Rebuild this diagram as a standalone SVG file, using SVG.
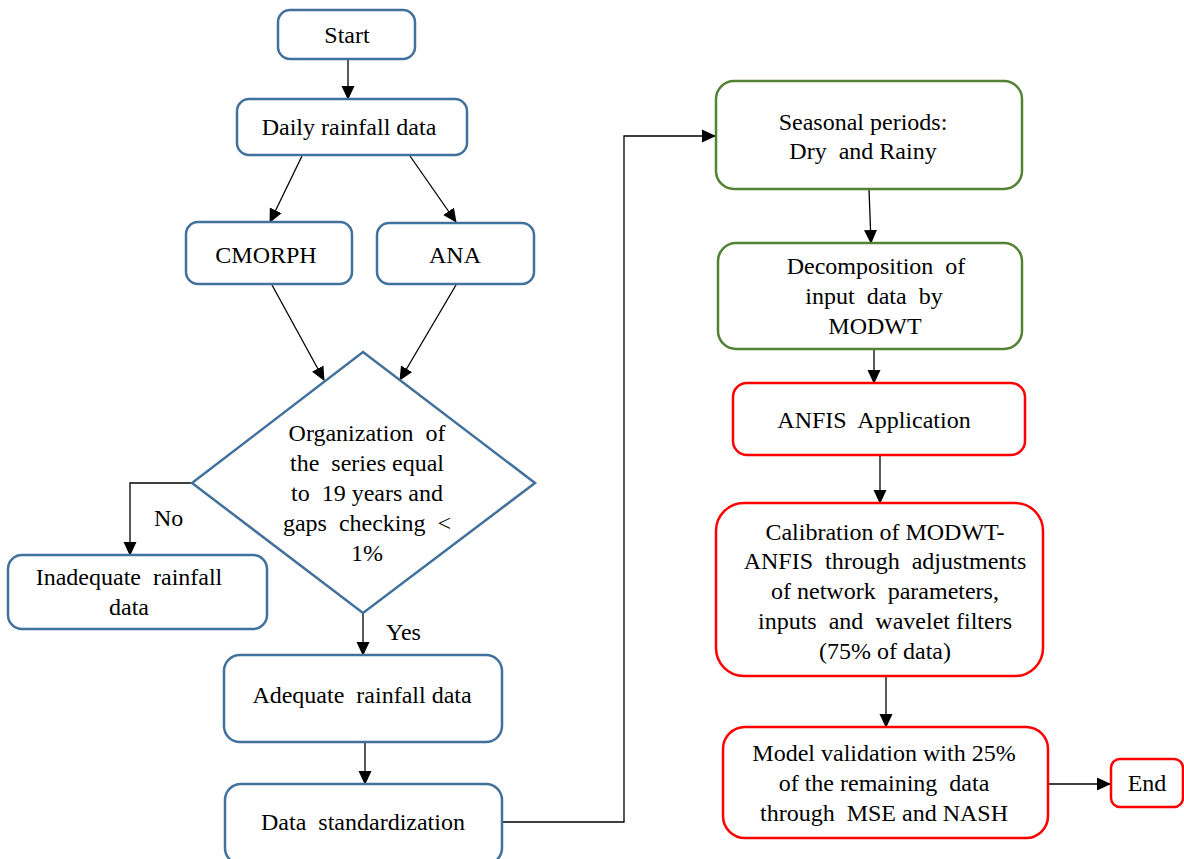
<svg xmlns="http://www.w3.org/2000/svg" width="1184" height="859" viewBox="0 0 1184 859">
<defs>
<marker id="ah" markerWidth="14" markerHeight="14" refX="13" refY="7" orient="auto" markerUnits="userSpaceOnUse">
<path d="M0,0.5 L14,7 L0,13.5 Z" fill="#000"/>
</marker>
<style>
.b{fill:#fff;stroke:#41719c;stroke-width:2.5}
.g{fill:#fff;stroke:#548235;stroke-width:2.5}
.r{fill:#fff;stroke:#ff0000;stroke-width:2.5}
.t{font-family:"Liberation Serif","Times New Roman",serif;font-size:24px;fill:#000;text-anchor:middle;white-space:pre}
.l{font-family:"Liberation Serif","Times New Roman",serif;font-size:24px;fill:#000}
.c{fill:none;stroke:#000;stroke-width:1.3;marker-end:url(#ah)}
</style>
</defs>
<rect width="1184" height="859" fill="#fff"/>
<g id="connectors">
<line class="c" x1="348" y1="59" x2="348" y2="99"/>
<line class="c" x1="302" y1="156" x2="270" y2="222"/>
<line class="c" x1="410" y1="156" x2="456" y2="222"/>
<line class="c" x1="272" y1="285" x2="324" y2="380"/>
<line class="c" x1="456" y1="285" x2="400" y2="380"/>
<polyline class="c" points="192,483 130,483 130,555"/>
<line class="c" x1="363" y1="613" x2="363" y2="655"/>
<line class="c" x1="365" y1="742" x2="365" y2="784"/>
<polyline class="c" points="502,822 624,822 624,136 715,136"/>
<line class="c" x1="869" y1="189" x2="871" y2="243"/>
<line class="c" x1="874" y1="349" x2="874" y2="383"/>
<line class="c" x1="880" y1="455" x2="880" y2="503"/>
<line class="c" x1="886" y1="676" x2="886" y2="727"/>
<line class="c" x1="1048" y1="784" x2="1110" y2="784"/>
<text class="l" x="154" y="526">No</text>
<text class="l" x="386" y="640">Yes</text>
</g>
<g id="start">
<rect class="b" x="278" y="10" width="137" height="49" rx="12"/>
<text class="t" x="347" y="43">Start</text>
</g>
<g id="daily">
<rect class="b" x="237" y="99" width="230" height="56" rx="12"/>
<text class="t" x="349" y="135">Daily rainfall data</text>
</g>
<g id="cmorph">
<rect class="b" x="186" y="222" width="166" height="62" rx="12"/>
<text class="t" x="266" y="263">CMORPH</text>
</g>
<g id="ana">
<rect class="b" x="377" y="223" width="157" height="61" rx="12"/>
<text class="t" x="455" y="263">ANA</text>
</g>
<g id="decision">
<polygon class="b" points="363,352 535,483 363,613 192,483"/>
<text class="t" x="367" y="441">Organization  of</text>
<text class="t" x="367" y="471">the  series equal</text>
<text class="t" x="367" y="501">to  19 years and</text>
<text class="t" x="367" y="531">gaps  checking  &lt;</text>
<text class="t" x="367" y="561">1%</text>
</g>
<g id="inadequate">
<rect class="b" x="8" y="555" width="259" height="74" rx="14"/>
<text class="t" x="129" y="585">Inadequate  rainfall</text>
<text class="t" x="129" y="615">data</text>
</g>
<g id="adequate">
<rect class="b" x="224" y="655" width="278" height="87" rx="16"/>
<text class="t" x="362" y="703">Adequate  rainfall data</text>
</g>
<g id="standardization">
<rect class="b" x="225" y="784" width="277" height="80" rx="16"/>
<text class="t" x="363" y="830">Data  standardization</text>
</g>
<g id="seasonal">
<rect class="g" x="716" y="81" width="306" height="108" rx="18"/>
<text class="t" x="863" y="130">Seasonal periods:</text>
<text class="t" x="863" y="159">Dry  and Rainy</text>
</g>
<g id="decomposition">
<rect class="g" x="718" y="243" width="304" height="106" rx="18"/>
<text class="t" x="876" y="274">Decomposition  of</text>
<text class="t" x="874" y="304">input  data  by</text>
<text class="t" x="875" y="334">MODWT</text>
</g>
<g id="anfis">
<rect class="r" x="733" y="383" width="292" height="72" rx="14"/>
<text class="t" x="874" y="428">ANFIS  Application</text>
</g>
<g id="calibration">
<rect class="r" x="716" y="503" width="327" height="173" rx="28"/>
<text class="t" x="885" y="540">Calibration of MODWT-</text>
<text class="t" x="885" y="569">ANFIS  through  adjustments</text>
<text class="t" x="885" y="599">of network  parameters,</text>
<text class="t" x="885" y="629">inputs  and  wavelet filters</text>
<text class="t" x="885" y="659">(75% of data)</text>
</g>
<g id="validation">
<rect class="r" x="723" y="727" width="325" height="111" rx="22"/>
<text class="t" x="884" y="761">Model validation with 25%</text>
<text class="t" x="884" y="791">of the remaining  data</text>
<text class="t" x="884" y="821">through  MSE and NASH</text>
</g>
<g id="end">
<rect class="r" x="1111" y="759" width="72" height="48" rx="9"/>
<text class="t" x="1147" y="791">End</text>
</g>
</svg>
